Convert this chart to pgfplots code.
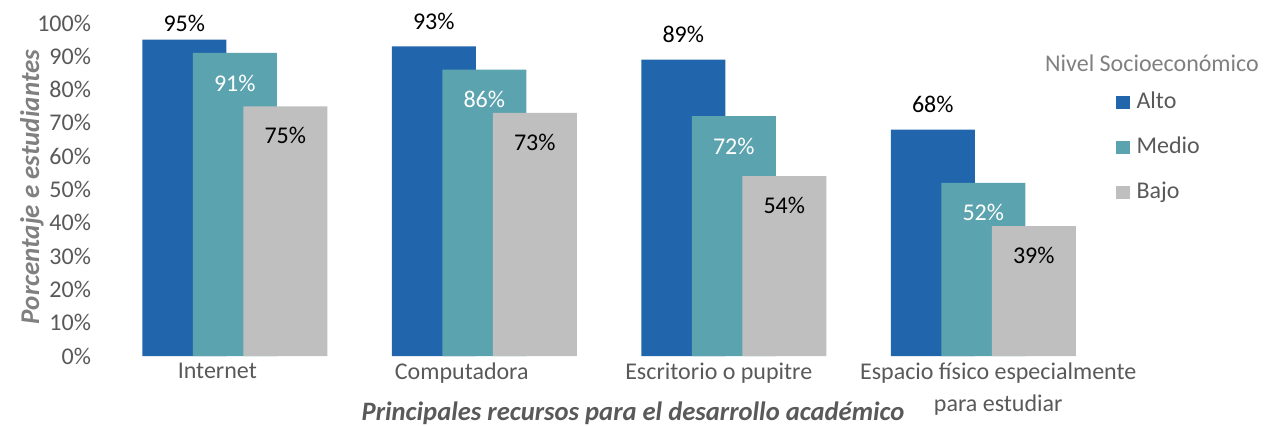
\documentclass[border=0pt]{standalone}
\usepackage{pgfplots}
\pgfplotsset{compat=1.18}
\usepackage{fontspec}
\setmainfont{Carlito}
\definecolor{alto}{HTML}{2166AC}
\definecolor{medio}{HTML}{5BA3AE}
\definecolor{bajo}{HTML}{BFBFBF}
\definecolor{txt}{HTML}{595959}
\definecolor{ttl}{HTML}{808080}
\begin{document}
\begin{tikzpicture}
\useasboundingbox (0,0) rectangle (634.5pt,212.5pt);
\begin{axis}[
  at={(55pt,34.5pt)}, anchor=south west,
  scale only axis, width=499pt, height=166.5pt,
  ybar, bar width=42pt,
  legend image code/.code={\fill[#1] (0pt,-3.3pt) rectangle (6.6pt,3.3pt);},
  xmin=-0.5, xmax=3.5, ymin=0, ymax=100,
  axis line style={draw=none},
  major tick length=0pt,
  ytick={0,10,...,100},
  yticklabel={\pgfmathprintnumber{\tick}\%},
  xtick={-0.07,0.91,1.94,3.06},
  xticklabels={Internet, Computadora, Escritorio o pupitre, {Espacio físico especialmente\\para estudiar}},
  xticklabel style={align=center, text=txt},
  yticklabel style={text=txt, xshift=-6pt},
  tick label style={font=\fontsize{12}{16}\selectfont},
  /pgf/number format/assume math mode=true,
  nodes near coords={\pgfmathprintnumber{\pgfplotspointmeta}\%},
  every node near coord/.append style={font=\fontsize{12}{14}\selectfont, anchor=center},
  clip=false,
  legend style={at={(rel axis cs:1.008,0.793)}, anchor=north west, draw=none, fill=none,
    inner sep=0pt, row sep=12pt, font=\fontsize{12}{14}\selectfont, text=txt,
    nodes={inner sep=0pt, text height=8pt, text depth=2.5pt},
    /tikz/every odd column/.append style={column sep=3.5pt}},
  legend cell align=left,
]
\addplot[fill=alto, draw=none, bar shift=-25.25pt,
  visualization depends on={ifthenelse(x<0.5,8,12.5) \as \myshift},
  every node near coord/.append style={yshift=\myshift pt, text=black}] coordinates {(0,95) (1,93) (2,89) (3,68)};
\addplot[fill=medio, draw=none, bar shift=0pt, every node near coord/.append style={yshift=-15pt, text=white}] coordinates {(0,91) (1,86) (2,72) (3,52)};
\addplot[fill=bajo, draw=none, bar shift=25.25pt, every node near coord/.append style={yshift=-14.5pt, text=black}] coordinates {(0,75) (1,73) (2,54) (3,39)};
\legend{Alto,Medio,Bajo}
\end{axis}
\node[text=ttl, font=\fontsize{12}{14}\selectfont] at (576pt,181pt) {Nivel Socioeconómico};
\node[rotate=90, text=ttl, font=\bfseries\itshape\fontsize{13.5}{16}\selectfont] at (16pt,119pt) {Porcentaje e estudiantes};
\node[text=txt, font=\bfseries\itshape\fontsize{13.3}{15}\selectfont] at (316.5pt,6pt) {Principales recursos para el desarrollo académico};
\end{tikzpicture}
\end{document}
